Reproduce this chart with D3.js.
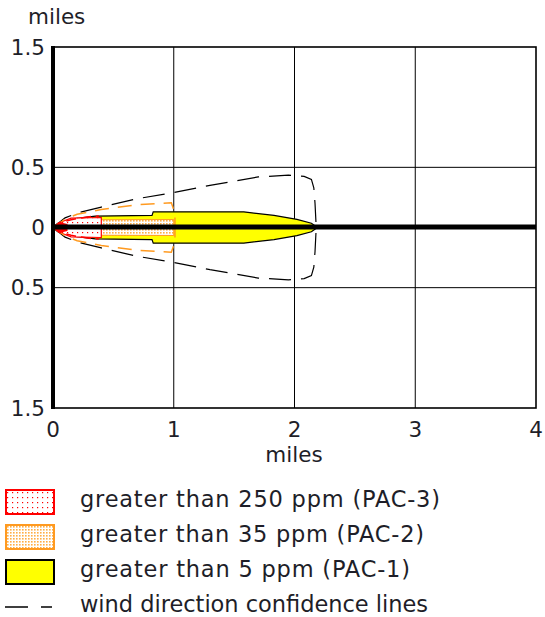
<!DOCTYPE html>
<html><head><meta charset="utf-8">
<script src="https://cdn.jsdelivr.net/npm/d3@7"></script>
<style>body{margin:0;background:#fff}svg{display:block}text{font-family:"DejaVu Sans",Verdana,sans-serif;fill:#1e1e28}</style>
</head><body>
<script>
// ---- data (miles) ----
const xTicks = [0, 1, 2, 3, 4];
const yTicks = [1.5, 0.5, 0, -0.5, -1.5];
const yTickLabels = ["1.5", "0.5", "0", "0.5", "1.5"];
// PAC-1 (yellow) zone: downwind distance and half-width
const pac1X  = [0, 0.04, 0.15, 0.35, 0.82, 0.83, 1.58, 1.83, 2.02, 2.14, 2.19];
const pac1HW = [0, 0.035, 0.07, 0.095, 0.1, 0.13, 0.13, 0.1, 0.068, 0.035, 0];
// PAC-2 (orange) zone
const pac2X  = [0, 0.08, 0.3, 1.0, 1.0];
const pac2HW = [0, 0.045, 0.064, 0.066, 0];
// PAC-3 (red) zone
const pac3X  = [0, 0.05, 0.15, 0.4, 0.4];
const pac3HW = [0, 0.04, 0.078, 0.083, 0];
// wind direction confidence lines (black, PAC-1)
const confX  = [0, 0.1, 0.2, 0.4, 0.7, 1.0, 1.3, 1.7, 1.95, 2.08, 2.14, 2.16, 2.17, 2.18];
const confHW = [0, 0.08, 0.12, 0.17, 0.24, 0.29, 0.35, 0.42, 0.435, 0.425, 0.4, 0.33, 0.2, 0];
// orange confidence lines (PAC-2)
const conf2X  = [0, 0.1, 0.2, 0.4, 0.7, 0.98, 1.01, 1.01];
const conf2HW = [0, 0.07, 0.11, 0.15, 0.19, 0.205, 0.12, 0];
// red confidence lines (PAC-3)
const conf3X  = [0, 0.06, 0.15, 0.3, 0.38];
const conf3HW = [0, 0.04, 0.065, 0.09, 0.095];
const legendItems = ["greater than 250 ppm (PAC-3)", "greater than 35 ppm (PAC-2)", "greater than 5 ppm (PAC-1)", "wind direction confidence lines"];
const legendTextWidths = [360, 344, 330, 348];

const W = 545, H = 617;
const svg = d3.select("body").append("svg").attr("width", W).attr("height", H);
const x = d3.scaleLinear().domain([0, 4]).range([53, 536]);
const y = d3.scaleLinear().domain([-1.5, 1.5]).range([408, 47]);

const defs = svg.append("defs");
const p3 = defs.append("pattern").attr("id", "pRed").attr("patternUnits", "userSpaceOnUse").attr("width", 5).attr("height", 5);
p3.append("rect").attr("width", 5).attr("height", 5).attr("fill", "#fff");
p3.append("rect").attr("x", 2).attr("y", 2).attr("width", 1.2).attr("height", 1.2).attr("fill", "#f00");
const p2 = defs.append("pattern").attr("id", "pOrange").attr("patternUnits", "userSpaceOnUse").attr("width", 3).attr("height", 3);
p2.append("rect").attr("width", 3).attr("height", 3).attr("fill", "#fff");
p2.append("rect").attr("x", 1).attr("y", 1).attr("width", 1.6).attr("height", 1.6).attr("fill", "#ffae45");

// grid
const g = svg.append("g");
g.selectAll(".vx").data(xTicks.slice(1, -1)).join("line")
  .attr("x1", d => x(d)).attr("x2", d => x(d)).attr("y1", y(1.5)).attr("y2", y(-1.5))
  .attr("stroke", "#000").attr("stroke-width", 1);
g.selectAll(".hy").data([0.5, -0.5]).join("line")
  .attr("x1", x(0)).attr("x2", x(4)).attr("y1", d => y(d)).attr("y2", d => y(d))
  .attr("stroke", "#000").attr("stroke-width", 1);
g.append("rect").attr("x", x(0)).attr("y", y(1.5)).attr("width", x(4) - x(0)).attr("height", y(-1.5) - y(1.5))
  .attr("fill", "none").attr("stroke", "#000").attr("stroke-width", 1.6);

function zone(xs, hw) {
  const top = xs.map((d, i) => [x(d), y(hw[i])]);
  const bot = xs.map((d, i) => [x(d), y(-hw[i])]).reverse();
  return d3.line()(top.concat(bot)) + "Z";
}
function side(xs, hw, s) {
  return d3.line()(xs.map((d, i) => [x(d), y(s * hw[i])]));
}

// confidence lines
[1, -1].forEach(s => {
  svg.append("path").attr("d", side(confX, confHW, s)).attr("fill", "none")
    .attr("stroke", "#000").attr("stroke-width", 1.2).attr("stroke-dasharray", "22,10");
});
// zones
svg.append("path").attr("d", zone(pac1X, pac1HW)).attr("fill", "#ffff00").attr("stroke", "#000").attr("stroke-width", 1.2);
svg.append("path").attr("d", zone(pac2X, pac2HW)).attr("fill", "url(#pOrange)").attr("stroke", "#ff9a20").attr("stroke-width", 1);
svg.append("path").attr("d", zone(pac3X, pac3HW)).attr("fill", "url(#pRed)").attr("stroke", "#f00").attr("stroke-width", 1.2);
[1, -1].forEach(s => {
  svg.append("path").attr("d", side(conf2X, conf2HW, s)).attr("fill", "none")
    .attr("stroke", "#ff9a20").attr("stroke-width", 1.5).attr("stroke-dasharray", "14,9");
  svg.append("path").attr("d", side(conf3X, conf3HW, s)).attr("fill", "none")
    .attr("stroke", "#f00").attr("stroke-width", 1.5).attr("stroke-dasharray", "10,5");
});
// solid red near source
svg.append("path").attr("d", zone([0, 0.05, 0.12], [0, 0.045, 0.03])).attr("fill", "#f00");

// centre line and left axis
svg.append("line").attr("x1", x(0)).attr("x2", x(4)).attr("y1", y(0) - 0.5).attr("y2", y(0) - 0.5)
  .attr("stroke", "#000").attr("stroke-width", 5);
svg.append("line").attr("x1", x(0)).attr("x2", x(0)).attr("y1", y(1.5) - 1).attr("y2", y(-1.5) + 1)
  .attr("stroke", "#000").attr("stroke-width", 4);

// tick labels
svg.selectAll(".xt").data(xTicks).join("text")
  .attr("x", d => x(d)).attr("y", 437).attr("text-anchor", "middle").attr("font-size", 21.5).text(d => d);
svg.selectAll(".yt").data(yTicks).join("text")
  .attr("x", 45).attr("y", d => y(d) + 7.5).attr("text-anchor", "end").attr("font-size", 21.5)
  .text((d, i) => yTickLabels[i]);
svg.append("text").attr("x", 28).attr("y", 24).attr("font-size", 21.5).text("miles");
svg.append("text").attr("x", 294).attr("y", 462).attr("text-anchor", "middle").attr("font-size", 21.5).text("miles");

// legend
const ly = [490, 525, 560];
const lf = ["url(#pRed)", "url(#pOrange)", "#ffff00"];
const ls = ["#f00", "#ff9a20", "#000"];
ly.forEach((v, i) => {
  svg.append("rect").attr("x", 6).attr("y", v).attr("width", 48).attr("height", 24)
    .attr("fill", lf[i]).attr("stroke", ls[i]).attr("stroke-width", 2);
});
svg.append("line").attr("x1", 5).attr("x2", 52).attr("y1", 607).attr("y2", 607)
  .attr("stroke", "#000").attr("stroke-width", 1.5).attr("stroke-dasharray", "23,13");
svg.selectAll(".lt").data(legendItems).join("text")
  .attr("x", 80).attr("y", (d, i) => 507 + i * 35).attr("font-size", 22.5)
  .attr("textLength", (d, i) => legendTextWidths[i]).attr("lengthAdjust", "spacing").text(d => d);
</script>
</body></html>
